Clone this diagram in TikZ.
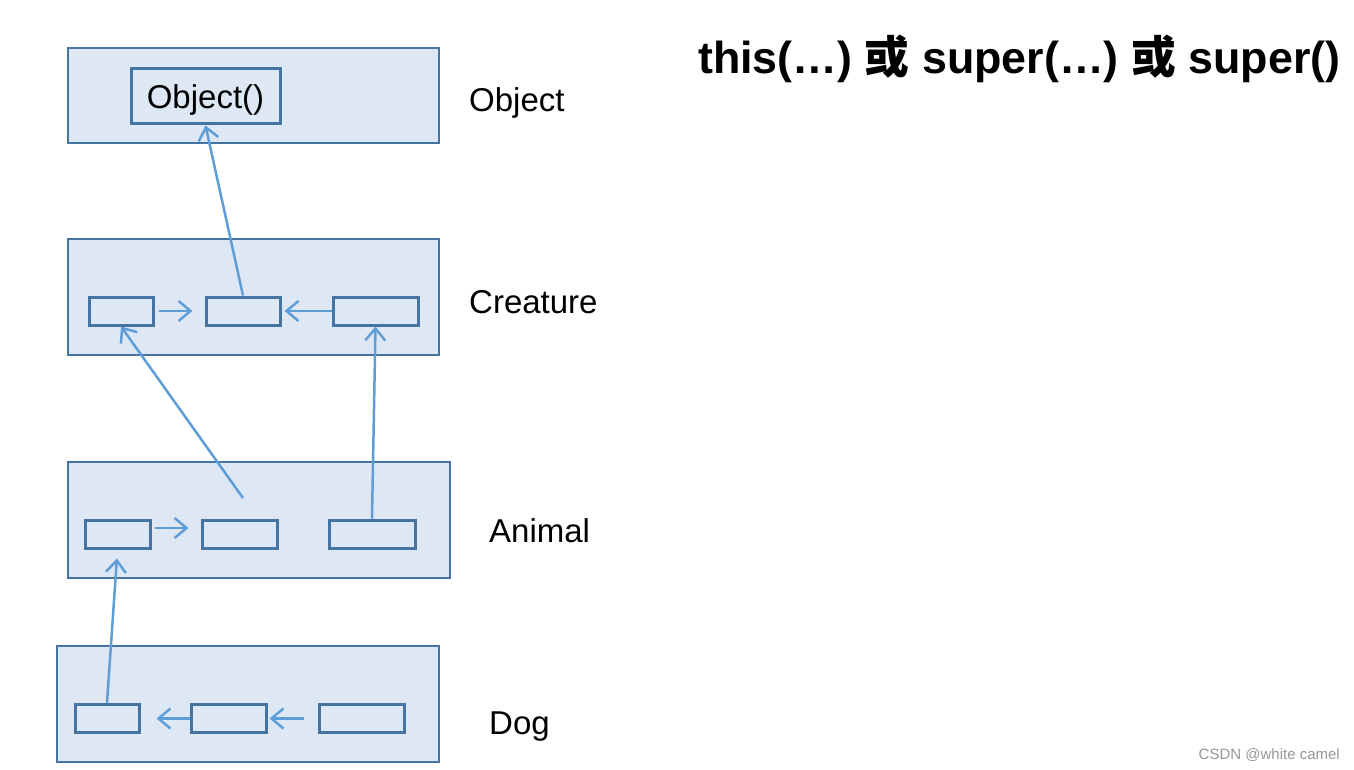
\documentclass[tikz,border=0pt]{standalone}
\usepackage{fontspec}
\setmainfont{Liberation Sans}
\newfontfamily\cjk{Noto Sans CJK SC}
\usetikzlibrary{arrows.meta}
\definecolor{boxfill}{RGB}{222,232,245}
\definecolor{boxdraw}{RGB}{70,116,162}
\definecolor{arrcol}{RGB}{95,157,215}
\definecolor{wm}{RGB}{150,150,150}
\tikzset{
  outerbox/.style={draw=boxdraw, fill=boxfill, line width=2.5pt, inner sep=0pt},
  innerbox/.style={draw=boxdraw, fill=boxfill, line width=3pt, inner sep=0pt, minimum height=28pt},
  arr/.style={draw=arrcol, line width=2.5pt, -{Straight Barb[length=12pt,width=20pt,line width=2.5pt]}},
  lab/.style={anchor=base west, inner sep=0pt, font=\fontsize{33}{40}\selectfont}
}
\begin{document}
\begin{tikzpicture}[x=1pt,y=-1pt]
\useasboundingbox (0,0) rectangle (1354,770);
% outer boxes
\node[outerbox, minimum width=371pt, minimum height=95pt] (objB) at (253.5,95.5) {};
\node[outerbox, minimum width=371pt, minimum height=116pt] (creB) at (253.5,297) {};
\node[outerbox, minimum width=382pt, minimum height=116pt] (aniB) at (259,520) {};
\node[outerbox, minimum width=382pt, minimum height=116pt] (dogB) at (248,704) {};
% Object()
\node[innerbox, minimum width=149pt, minimum height=55pt, text height=24pt, text depth=0pt, font=\fontsize{33}{40}\selectfont] (objI) at (205.5,96.5) {Object()};
% Creature
\node[innerbox, minimum width=64pt] (c1) at (121,311) {};
\node[innerbox, minimum width=74pt] (c2) at (243,311) {};
\node[innerbox, minimum width=85pt] (c3) at (375.5,311) {};
% Animal
\node[innerbox, minimum width=65pt] (a1) at (117.5,534) {};
\node[innerbox, minimum width=75pt] (a2) at (239.5,534) {};
\node[innerbox, minimum width=86pt] (a3) at (372,534) {};
% Dog
\node[innerbox, minimum width=64pt] (d1) at (107,718.5) {};
\node[innerbox, minimum width=75pt] (d2) at (228.5,718.5) {};
\node[innerbox, minimum width=85pt] (d3) at (361.5,718.5) {};
\coordinate (free) at (243,498);
% connectors
\draw[arr] (c2.north) -- (objI.south);
\draw[arr] ([xshift=4pt]c1.east) -- ([xshift=-12pt]c2.west);
\draw[arr] (c3.west) -- ([xshift=3pt]c2.east);
\draw[arr] (free) -- (c1.south);
\draw[arr] (a3.north) -- (c3.south);
\draw[arr] ([shift={(3pt,6pt)}]a1.east) -- ([shift={(-12pt,6pt)}]a2.west);
\draw[arr, shorten >=9pt] (d1.north) -- (a1.south);
\draw[arr] (d2.west) -- ([xshift=16pt]d1.east);
\draw[arr] ([xshift=-14pt]d3.west) -- ([xshift=2pt]d2.east);
% labels
\node[lab] (lObj) at (469,112) {Object};
\node[lab] (lCre) at (469,313) {Creature};
\node[lab] (lAni) at (489,542) {Animal};
\node[lab] (lDog) at (489,734) {Dog};
% title
\node[anchor=base west, inner sep=0pt, font=\fontsize{44.8}{52}\selectfont\bfseries] (title) at (698,74)
  {this(…) {\cjk\bfseries 或} super(…) {\cjk\bfseries 或} super()};
% watermark
\node[anchor=base east, inner sep=0pt, text=wm, font=\fontsize{15}{18}\selectfont] (wmark) at (1340,759) {CSDN @white camel};
\end{tikzpicture}
\end{document}
